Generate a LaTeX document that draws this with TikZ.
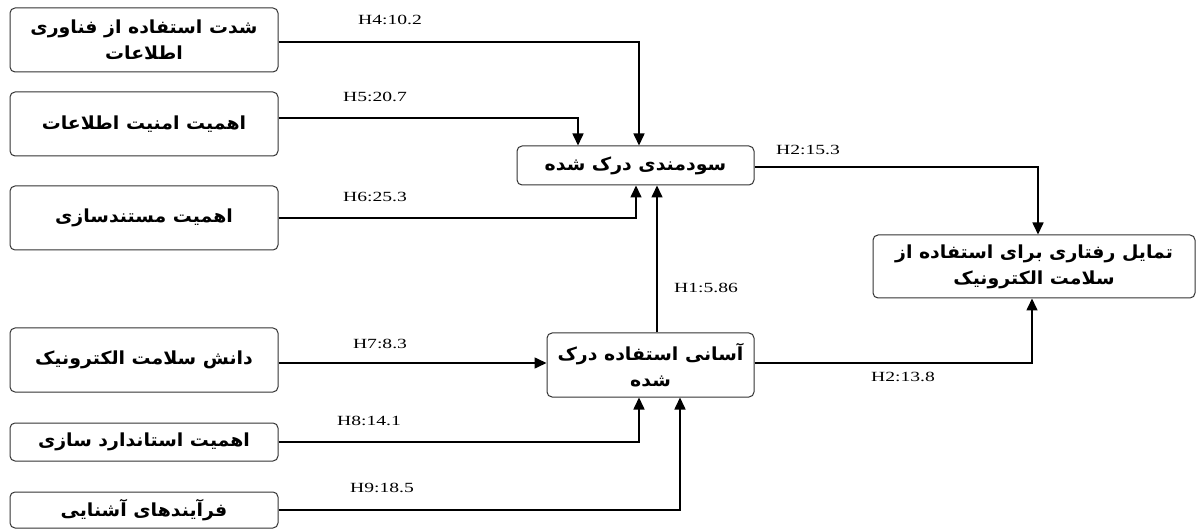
\documentclass[tikz,border=0pt]{standalone}
\usepackage{fontspec}
\setmainfont{Liberation Serif}
\newfontfamily\fa[Script=Arabic,FakeStretch=1.05]{DejaVu Sans}
\newfontfamily\lbl[FakeStretch=1.4]{Liberation Serif}
\TeXXeTstate=1
\usetikzlibrary{arrows.meta}
\begin{document}
\begin{tikzpicture}[x=1pt,y=-1pt,
 box/.style={draw=black!80, line width=1pt, rounded corners=5pt, fill=white, align=center, font=\fa\bfseries\fontsize{18}{26}\selectfont, inner sep=2pt},
 conn/.style={line width=1.6pt, -{Triangle[length=12pt,width=11pt]}},
 lab/.style={font=\lbl\fontsize{14}{16}\selectfont, inner sep=0pt}]
\useasboundingbox (0,0) rectangle (1197,529);
% left boxes
\node[box, minimum width=268pt, minimum height=64pt] (b1) at (144,40) {\beginR شدت استفاده از فناوری\endR\\\beginR اطلاعات\endR};
\node[box, minimum width=268pt, minimum height=64pt] (b2) at (144,124) {\beginR اهمیت امنیت اطلاعات\endR};
\node[box, minimum width=268pt, minimum height=64pt] (b3) at (144,218) {\beginR اهمیت مستندسازی\endR};
\node[box, minimum width=268pt, minimum height=64pt] (b4) at (144,360) {\beginR دانش سلامت الکترونیک\endR};
\node[box, minimum width=268pt, minimum height=38pt] (b5) at (144,442) {\beginR اهمیت استاندارد سازی\endR};
\node[box, minimum width=268pt, minimum height=36pt] (b6) at (144,510) {\beginR فرآیندهای آشنایی\endR};
% central boxes
\node[box, minimum width=237pt, minimum height=39pt] (U) at (635.5,165.5) {\beginR سودمندی درک شده\endR};
\node[box, minimum width=207pt, minimum height=64pt] (E) at (650.5,365) {\beginR آسانی استفاده درک\endR\\\beginR شده\endR};
\node[box, minimum width=322pt, minimum height=63pt] (I) at (1034,266.5) {\beginR تمایل رفتاری برای استفاده از\endR\\\beginR سلامت الکترونیک\endR};
% connectors
\draw[conn] ([yshift=-2pt]b1.east) -| ([xshift=3.5pt]U.north);
\draw[conn] ([yshift=6pt]b2.east) -| ([xshift=-57.5pt]U.north);
\draw[conn] (b3.east) -| ([xshift=0.5pt]U.south);
\draw[conn] ([xshift=6.5pt]E.north) -- ([xshift=6.5pt]E.north |- U.south);
\draw[conn] ([yshift=-3pt]b4.east) -- ([yshift=2pt]E.west);
\draw[conn] (b5.east) -| ([xshift=-11.5pt]E.south);
\draw[conn] (b6.east) -| ([xshift=29.5pt]E.south);
\draw[conn] ([yshift=-1.5pt]U.east) -| ([xshift=4pt]I.north);
\draw[conn] ([yshift=2pt]E.east) -| ([xshift=-2pt]I.south);
% labels
\node[lab] (l4) at (390,20) {H4:10.2};
\node[lab] (l5) at (375,97) {H5:20.7};
\node[lab] (l6) at (375,197) {H6:25.3};
\node[lab] (l1) at (706,288) {H1:5.86};
\node[lab] (l7) at (380,344) {H7:8.3};
\node[lab] (l8) at (369,421) {H8:14.1};
\node[lab] (l9) at (382,488) {H9:18.5};
\node[lab] (l2a) at (808,150) {H2:15.3};
\node[lab] (l2b) at (903,377) {H2:13.8};
\end{tikzpicture}
\end{document}
